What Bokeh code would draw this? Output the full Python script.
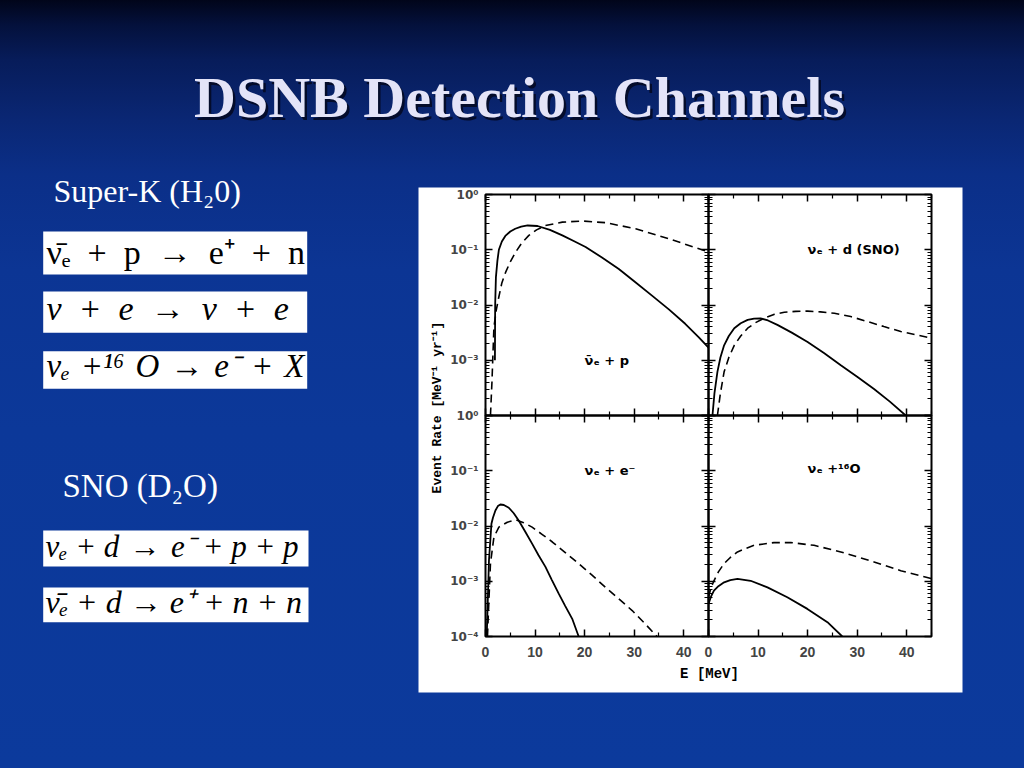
import math
from bokeh.plotting import figure
from bokeh.models import (GridBox, Range1d, FixedTicker, LogAxis, LinearAxis,
                          CustomJSTickFormatter, GlobalInlineStyleSheet)
from bokeh.core.properties import value
from bokeh.embed import file_html
from bokeh.resources import INLINE

# ---------------- text content ----------------
TITLE = "DSNB Detection Channels"
SK_HEAD = "Super-K (H₂0)"
SNO_HEAD = "SNO (D₂O)"
EN = "\u2002"
TS = "\u2004"
QS = "\u2005"
EQ_SK = [
    f"ν̄ₑ{EN}+{EN}p{EN}→{EN}e⁺{EN}+{EN}n",
    f"ν{EN}+{EN}e{EN}→{EN}ν{EN}+{EN}e",
    f"νₑ{TS}+¹⁶{TS}O{TS}→{TS}e⁻{TS}+{TS}X",
]
EQ_SNO = [
    f"νₑ{QS}+{QS}d{TS}→{TS}e⁻{QS}+{QS}p{QS}+{QS}p",
    f"ν̄ₑ{QS}+{QS}d{QS}→{QS}e⁺{QS}+{QS}n{QS}+{QS}n",
]
PANEL_LABELS = ["ν̄ₑ  +  p", "νₑ  +  d  (SNO)", "νₑ  +  e⁻", "νₑ  +¹⁶O"]
Y_TITLE = "Event Rate [MeV⁻¹ yr⁻¹]"
X_TITLE = "E [MeV]"

# ---------------- data ----------------
X_TICKS = [0, 10, 20, 30, 40]
X_MINOR = [5, 15, 25, 35, 45]
Y_TICKS = [1e-4, 1e-3, 1e-2, 1e-1, 1.0]
X_MIN, X_MAX = 0, 45
Y_MIN, Y_MAX = 1e-4, 1.0

# anti-nu_e + p
E_P_SOLID = [1.9, 1.95, 2.1, 2.4, 2.7, 3.3, 4.0, 5.0, 6.0, 7.2, 8.5, 10.5, 13.0, 15.5, 18.0,
             20.2, 23.5, 26.9, 30.0, 33.6, 37.0, 40.3, 43.0, 45.0]
R_P_SOLID = [1.0e-3, 1.0e-2, 3.16e-2, 6.31e-2, 1.0e-1, 1.41e-1, 1.78e-1, 2.14e-1, 2.40e-1,
             2.63e-1, 2.75e-1, 2.69e-1, 2.29e-1, 1.82e-1, 1.41e-1, 1.12e-1, 7.24e-2, 4.47e-2,
             2.69e-2, 1.48e-2, 8.32e-3, 4.57e-3, 2.63e-3, 1.70e-3]
E_P_DASH = [1.0, 1.3, 1.7, 2.2, 2.7, 3.3, 4.05, 5.0, 6.1, 7.3, 8.75, 10.3, 12.1, 15.5, 19.5,
            24.2, 30.3, 37.0, 45.0]
R_P_DASH = [1.0e-4, 3.98e-4, 3.98e-3, 8.32e-3, 1.41e-2, 2.51e-2, 3.89e-2, 6.03e-2, 9.12e-2,
            1.32e-1, 1.82e-1, 2.29e-1, 2.75e-1, 3.16e-1, 3.31e-1, 3.09e-1, 2.40e-1, 1.58e-1,
            9.12e-2]

# nu_e + d (SNO)
E_D_SOLID = [0.8, 1.2, 1.8, 2.4, 3.15, 4.1, 5.2, 6.5, 7.9, 9.2, 10.5, 12.0, 13.9, 16.8, 20.0,
             23.3, 26.7, 30.0, 33.4, 36.6, 39.8]
R_D_SOLID = [1.0e-4, 2.51e-4, 6.17e-4, 1.12e-3, 1.86e-3, 2.75e-3, 3.80e-3, 4.68e-3, 5.37e-3,
             5.69e-3, 5.75e-3, 5.25e-3, 4.37e-3, 3.16e-3, 2.14e-3, 1.35e-3, 8.13e-4, 5.01e-4,
             3.02e-4, 1.78e-4, 1.0e-4]
E_D_DASH = [1.8, 2.4, 3.15, 4.1, 5.2, 6.5, 7.9, 9.5, 11.2, 13.2, 15.3, 17.6, 20.0, 22.6, 25.4,
            28.7, 32.1, 35.4, 38.8, 45.0]
R_D_DASH = [1.0e-4, 2.51e-4, 6.17e-4, 1.12e-3, 1.86e-3, 2.75e-3, 3.80e-3, 4.79e-3, 5.75e-3,
            6.76e-3, 7.41e-3, 7.67e-3, 7.76e-3, 7.50e-3, 7.08e-3, 6.17e-3, 5.01e-3, 4.07e-3,
            3.31e-3, 2.51e-3]

# nu_e + e-
E_E_SOLID = [0.25, 0.7, 1.2, 1.5, 2.0, 2.5, 3.0, 3.7, 4.7, 5.7, 6.7, 8.0, 9.4, 10.7, 12.1,
             13.4, 14.8, 16.1, 17.5, 18.8]
R_E_SOLID = [1.0e-4, 2.40e-3, 1.10e-2, 1.41e-2, 1.91e-2, 2.29e-2, 2.45e-2, 2.40e-2, 2.14e-2,
             1.70e-2, 1.26e-2, 7.94e-3, 4.79e-3, 2.95e-3, 1.82e-3, 1.05e-3, 5.89e-4, 3.55e-4,
             2.09e-4, 1.0e-4]
E_E_DASH = [0.4, 0.55, 1.0, 1.7, 2.7, 4.4, 6.1, 7.7, 9.4, 11.4, 13.5, 16.1, 18.8, 21.5, 24.2,
            26.9, 29.6, 32.1, 34.6]
R_E_DASH = [1.0e-4, 2.24e-4, 2.09e-3, 6.31e-3, 9.55e-3, 1.17e-2, 1.29e-2, 1.15e-2, 9.55e-3,
            7.08e-3, 5.13e-3, 3.31e-3, 2.09e-3, 1.29e-3, 7.76e-4, 4.79e-4, 2.95e-4, 1.74e-4,
            1.0e-4]

# nu_e + 16O
E_O_SOLID = [0.0, 0.5, 1.1, 2.0, 3.15, 4.4, 5.85, 8.5, 11.9, 15.9, 19.95, 24.0, 27.0]
R_O_SOLID = [3.89e-4, 5.25e-4, 6.76e-4, 8.13e-4, 9.55e-4, 1.05e-3, 1.10e-3, 1.02e-3, 7.76e-4,
             5.13e-4, 3.16e-4, 1.82e-4, 1.0e-4]
E_O_DASH = [0.0, 0.5, 1.1, 2.0, 3.15, 4.4, 5.85, 7.4, 9.2, 13.2, 16.6, 21.3, 26.7, 33.4, 38.8,
            45.0]
R_O_DASH = [5.13e-4, 7.59e-4, 1.02e-3, 1.48e-3, 2.09e-3, 2.69e-3, 3.39e-3, 3.89e-3, 4.47e-3,
            5.01e-3, 5.01e-3, 4.47e-3, 3.39e-3, 2.24e-3, 1.55e-3, 1.12e-3]

# ---------------- layout constants (page pixels) ----------------
SERIF = "Liberation Serif"
PAGE_W, PAGE_H = 1024, 768
BL_, BR_, BT_, BB_ = 40, 12, 12, 40   # common borders for every figure
FW, FH = 223, 221                     # panel frame size
FRAME_X = [485, 708]                  # frame left edge per column (page px)
FRAME_Y = [194, 415]                  # frame top edge per row (page px)

# ---------------- background slide ----------------
bg = figure(width=PAGE_W, height=PAGE_H,
            x_range=Range1d(BL_, PAGE_W - BR_), y_range=Range1d(PAGE_H - BB_, BT_),
            x_axis_location=None, y_axis_location=None, output_backend="svg",
            toolbar_location=None, min_border_left=BL_, min_border_right=BR_,
            min_border_top=BT_, min_border_bottom=BB_, outline_line_color=None,
            background_fill_alpha=0, border_fill_alpha=0)
bg.grid.visible = False

# title with shadow
bg.text(x=[521.5], y=[99.5], text=[TITLE], text_font=value(SERIF), text_font_style="bold",
        text_font_size="58px", text_align="center", text_baseline="middle",
        text_color="#030820", text_alpha=0.85)
bg.text(x=[519], y=[97], text=[TITLE], text_font=value(SERIF), text_font_style="bold",
        text_font_size="58px", text_align="center", text_baseline="middle",
        text_color="#E4E4F8")

# section heads
bg.text(x=[53], y=[190], text=[SK_HEAD], text_font=value(SERIF),
        text_font_size="32px", text_align="left", text_baseline="middle",
        text_color="white")
bg.text(x=[62], y=[485], text=[SNO_HEAD], text_font=value(SERIF),
        text_font_size="33px", text_align="left", text_baseline="middle",
        text_color="white")

# equation boxes
BOX_L = [42.7, 42.7, 42.7, 42.7, 42.7]
BOX_R = [306.7, 306.7, 306.7, 308, 308]
BOX_T = [231, 291, 350.7, 530, 587]
BOX_B = [274, 332.3, 388.3, 566, 621.7]
bg.quad(left=BOX_L, right=BOX_R, top=BOX_T, bottom=BOX_B, fill_color="white",
        line_color=None)
EQ_MID = [251.5, 307.5, 365, 545.5, 601]
bg.text(x=[46], y=[EQ_MID[0]], text=[EQ_SK[0]], text_font=value(SERIF),
        text_font_size="34px", text_align="left", text_baseline="middle",
        text_color="black")
bg.text(x=[46], y=[EQ_MID[1]], text=[EQ_SK[1]], text_font=value(SERIF),
        text_font_style="italic", text_font_size="34px", text_align="left",
        text_baseline="middle", text_color="black")
bg.text(x=[46], y=[EQ_MID[2]], text=[EQ_SK[2]], text_font=value(SERIF),
        text_font_style="italic", text_font_size="33px", text_align="left",
        text_baseline="middle", text_color="black")
bg.text(x=[45], y=[EQ_MID[3]], text=[EQ_SNO[0]], text_font=value(SERIF),
        text_font_style="italic", text_font_size="31px", text_align="left",
        text_baseline="middle", text_color="black")
bg.text(x=[45], y=[EQ_MID[4]], text=[EQ_SNO[1]], text_font=value(SERIF),
        text_font_style="italic", text_font_size="32px", text_align="left",
        text_baseline="middle", text_color="black")

# white chart panel
bg.quad(left=[418], right=[962], top=[187], bottom=[692], fill_color="white",
        line_color=None)
bg.text(x=[437], y=[407], text=[Y_TITLE], angle=math.pi / 2,
        text_font=value("Liberation Mono"), text_font_style="bold", text_font_size="13px",
        text_align="center", text_baseline="middle", text_color="black")
bg.text(x=[709], y=[673], text=[X_TITLE], text_font=value("Liberation Mono"),
        text_font_style="bold", text_font_size="14px", text_align="center",
        text_baseline="middle", text_color="black")

# ---------------- panels ----------------
SUP_CODE = """
const sup = {"-": "\\u207b", "0": "\\u2070", "1": "\\u00b9", "2": "\\u00b2",
             "3": "\\u00b3", "4": "\\u2074"};
const e = Math.round(Math.log10(tick));
if (e < lowest) { return ""; }
return "10" + String(e).split("").map(c => sup[c]).join("");
"""
BLANK = "return '';"
Y_MINOR = [k * 10.0 ** n for n in range(-4, 0) for k in range(2, 10)]


def style_axis(ax):
    ax.axis_line_color = None
    ax.major_tick_in = 7
    ax.major_tick_out = 0
    ax.minor_tick_in = 4
    ax.minor_tick_out = 0
    ax.major_tick_line_width = 1.5
    ax.minor_tick_line_width = 1.2
    ax.major_tick_line_color = "black"
    ax.minor_tick_line_color = "black"


def make_panel(row, col, label, lab_x, lab_y, es, rs, ed, rd, lowest):
    top = FRAME_Y[row] - BT_
    left = FRAME_X[col] - BL_
    p = figure(width=BL_ + FW + BR_, height=BT_ + FH + BB_,
               x_range=Range1d(X_MIN, X_MAX), y_range=Range1d(Y_MIN, Y_MAX),
               y_axis_type="log", x_axis_location=None, y_axis_location=None,
               output_backend="svg", toolbar_location=None,
               min_border_left=BL_, min_border_right=BR_, min_border_top=BT_,
               min_border_bottom=BB_, background_fill_alpha=0, border_fill_alpha=0,
               outline_line_color="black", outline_line_width=2,
               margin=(top, 0, 0, left))
    p.grid.visible = False

    for loc in ("left", "right"):
        ax = LogAxis(ticker=FixedTicker(ticks=Y_TICKS, minor_ticks=Y_MINOR))
        style_axis(ax)
        if loc == "left" and col == 0:
            ax.formatter = CustomJSTickFormatter(code=SUP_CODE, args={"lowest": lowest})
            ax.major_label_text_font = "DejaVu Sans"
            ax.major_label_text_font_style = "bold"
            ax.major_label_text_font_size = "12px"
            ax.major_label_standoff = 7
        else:
            ax.formatter = CustomJSTickFormatter(code=BLANK)
            ax.major_label_standoff = 0
        p.add_layout(ax, loc)

    for loc in ("below", "above"):
        ax = LinearAxis(ticker=FixedTicker(ticks=X_TICKS, minor_ticks=X_MINOR))
        style_axis(ax)
        if loc == "below" and row == 1:
            ax.major_label_text_font = "Liberation Sans"
            ax.major_label_text_font_style = "bold"
            ax.major_label_text_font_size = "14px"
            ax.major_label_standoff = 10
        else:
            ax.formatter = CustomJSTickFormatter(code=BLANK)
            ax.major_label_standoff = 0
        p.add_layout(ax, loc)

    p.line(es, rs, line_color="black", line_width=1.8)
    p.line(ed, rd, line_color="black", line_width=1.6, line_dash="8 5")
    p.text(x=[lab_x], y=[lab_y], text=[label], text_font=value("DejaVu Sans"),
           text_font_style="bold", text_font_size="13px", text_align="left",
           text_baseline="middle", text_color="black")
    return p


tl = make_panel(0, 0, PANEL_LABELS[0], 20, 1.0e-3, E_P_SOLID, R_P_SOLID, E_P_DASH, R_P_DASH, -3)
tr = make_panel(0, 1, PANEL_LABELS[1], 20, 1.0e-1, E_D_SOLID, R_D_SOLID, E_D_DASH, R_D_DASH, -3)
bl = make_panel(1, 0, PANEL_LABELS[2], 20, 1.0e-1, E_E_SOLID, R_E_SOLID, E_E_DASH, R_E_DASH, -4)
br = make_panel(1, 1, PANEL_LABELS[3], 20, 1.1e-1, E_O_SOLID, R_O_SOLID, E_O_DASH, R_O_DASH, -4)

BG_CSS = """
html { background: linear-gradient(180deg, #01051a 0px, #04113c 25px, #071c5a 60px,
        #0a2672 115px, #0b2f88 175px, #0c3594 270px, #0c3899 430px, #0c3a9c 768px);
       min-height: 100%; overflow: hidden; }
body { background: transparent; overflow: hidden; }
"""

root = GridBox(children=[(bg, 0, 0), (tl, 0, 0), (tr, 0, 0), (bl, 0, 0), (br, 0, 0)],
               stylesheets=[GlobalInlineStyleSheet(css=BG_CSS)])

open("out.html", "w").write(file_html(root, INLINE))
